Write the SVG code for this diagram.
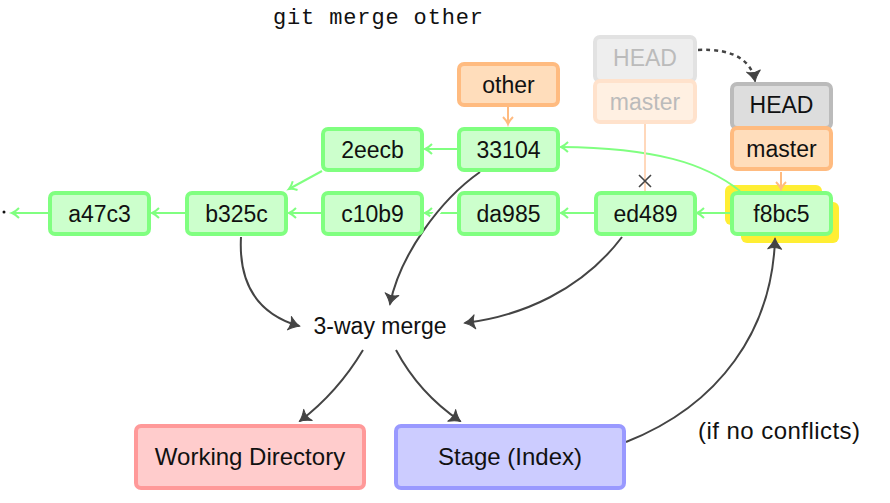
<svg xmlns="http://www.w3.org/2000/svg" width="890" height="503" viewBox="0 0 890 503">
<defs>
<style>
text{font-family:"Liberation Sans","DejaVu Sans",sans-serif;fill:#111;text-anchor:middle}
.lbl{font-size:23px}
.big{font-size:24px}
.commit rect.b{fill:#ccffcc;stroke:#80ff80;stroke-width:4}
.ref rect.b{fill:#ffddbb;stroke:#ffbb80;stroke-width:4}
.head rect.b{fill:#dddddd;stroke:#bbbbbb;stroke-width:4}
.fhead rect.b{fill:#eeeeee;stroke:#e2e2e2;stroke-width:4}
.fref rect.b{fill:#fff0e2;stroke:#ffe2cc;stroke-width:4}
.faded text{fill:#bbbbbb}
.g{fill:none;stroke:#80ff80;stroke-width:2}
.o{fill:none;stroke:#ffbb80;stroke-width:2}
.fo{fill:none;stroke:#ffd8bb;stroke-width:2}
.k{fill:none;stroke:#444;stroke-width:2}
</style>
<marker id="ag" markerUnits="userSpaceOnUse" markerWidth="14" markerHeight="14" refX="0" refY="0" viewBox="-10 -7 12 14" orient="auto" overflow="visible">
<path d="M-7,-5 Q-3,-1 0,0 Q-3,1 -7,5" fill="none" stroke="#80ff80" stroke-width="2"/>
</marker>
<marker id="ao" markerUnits="userSpaceOnUse" markerWidth="14" markerHeight="14" refX="0" refY="0" viewBox="-10 -7 12 14" orient="auto" overflow="visible">
<path d="M-7,-5 Q-3,-1 0,0 Q-3,1 -7,5" fill="none" stroke="#ffbb80" stroke-width="2"/>
</marker>
<marker id="ak" markerUnits="userSpaceOnUse" markerWidth="16" markerHeight="16" refX="0" refY="0" viewBox="-12 -8 14 16" orient="auto" overflow="visible">
<path d="M-10,-7 Q-4,-1.5 1,0 Q-4,1.5 -10,7 Q-7,0 -10,-7Z" fill="#444" stroke="#444" stroke-width="1" stroke-linejoin="round"/>
</marker>
</defs>

<text x="378" y="24" style="font-family:'Liberation Mono','DejaVu Sans Mono',monospace;font-size:22px" textLength="210">git merge other</text>

<!-- highlight behind f8bc5 -->
<g id="highlight">
<rect x="725" y="185" width="97" height="40" rx="6" fill="#ffee33"/>
<rect x="741" y="202" width="98" height="41" rx="6" fill="#ffee33"/>
</g>

<g id="connectors">
<circle cx="4" cy="212" r="1.5" fill="#111"/>
<line class="g" x1="48" y1="213" x2="12" y2="213" marker-end="url(#ag)"/>
<line class="g" x1="185" y1="213" x2="152" y2="213" marker-end="url(#ag)"/>
<line class="g" x1="321" y1="213" x2="289" y2="213" marker-end="url(#ag)"/>
<line class="g" x1="457" y1="213" x2="425" y2="213" marker-end="url(#ag)"/>
<line class="g" x1="594" y1="213" x2="561" y2="213" marker-end="url(#ag)"/>
<line class="g" x1="730" y1="213" x2="697" y2="213" marker-end="url(#ag)"/>
<line class="g" x1="457" y1="149" x2="425" y2="149" marker-end="url(#ag)"/>
<line class="g" x1="322" y1="171" x2="289" y2="189" marker-end="url(#ag)"/>
<path class="g" d="M740,191 C705,163 655,148 561,147" marker-end="url(#ag)"/>
<line class="o" x1="508" y1="106" x2="508" y2="124" marker-end="url(#ao)"/>
<line class="o" x1="781" y1="172" x2="781" y2="189" marker-end="url(#ao)"/>
<line class="fo" x1="645" y1="124" x2="645" y2="191"/>
<path d="M639,175 L651,187 M651,175 L639,187" stroke="#444" stroke-width="1.6" fill="none"/>
<path d="M698,50 C735,48 752,62 755,81" fill="none" stroke="#444" stroke-width="2.5" stroke-dasharray="4,4" marker-end="url(#ak)"/>

<path class="k" d="M241,237 C238,292 265,316 299,326" marker-end="url(#ak)"/>
<path d="M480,172 C440,200 400,255 390,304" fill="none" stroke="#fff" stroke-width="6"/>
<path class="k" d="M480,172 C440,200 400,255 390,304" marker-end="url(#ak)"/>
<path class="k" d="M622,237 C582,290 522,316 465,323" marker-end="url(#ak)"/>
<path class="k" d="M363,350 C345,380 325,402 300,421" marker-end="url(#ak)"/>
<path class="k" d="M396,350 C412,380 432,402 460,421" marker-end="url(#ak)"/>
<path class="k" d="M626,442 C720,405 772,330 775,239" marker-end="url(#ak)"/>
</g>

<g id="a47c3" class="commit"><rect class="b" x="50" y="193" width="99" height="41" rx="5"/><text class="lbl" x="99.5" y="213.5" dy="0.35em">a47c3</text></g>
<g id="b325c" class="commit"><rect class="b" x="187" y="193" width="99" height="41" rx="5"/><text class="lbl" x="236.5" y="213.5" dy="0.35em">b325c</text></g>
<g id="c10b9" class="commit"><rect class="b" x="323" y="193" width="99" height="41" rx="5"/><text class="lbl" x="372.5" y="213.5" dy="0.35em">c10b9</text></g>
<g id="da985" class="commit"><rect class="b" x="459" y="193" width="99" height="41" rx="5"/><text class="lbl" x="508.5" y="213.5" dy="0.35em">da985</text></g>
<g id="ed489" class="commit"><rect class="b" x="596" y="193" width="99" height="41" rx="5"/><text class="lbl" x="645.5" y="213.5" dy="0.35em">ed489</text></g>
<g id="f8bc5" class="commit"><rect class="b" x="732" y="193" width="99" height="41" rx="5"/><text class="lbl" x="781.5" y="213.5" dy="0.35em">f8bc5</text></g>
<g id="2eecb" class="commit"><rect class="b" x="323" y="129" width="99" height="41" rx="5"/><text class="lbl" x="372.5" y="149.5" dy="0.35em">2eecb</text></g>
<g id="33104" class="commit"><rect class="b" x="459" y="129" width="99" height="41" rx="5"/><text class="lbl" x="508.5" y="149.5" dy="0.35em">33104</text></g>

<g id="other" class="ref"><rect class="b" x="459" y="64" width="99" height="41" rx="5"/><text class="lbl" x="508.5" y="84.5" dy="0.35em">other</text></g>

<g id="oldHEAD" class="fhead faded"><rect class="b" x="595" y="37" width="100" height="44" rx="5"/><text class="lbl" x="645" y="58" dy="0.35em">HEAD</text></g>
<g id="oldmaster" class="fref faded"><rect class="b" x="595" y="81" width="100" height="41" rx="5"/><text class="lbl" x="645" y="101.5" dy="0.35em">master</text></g>

<g id="HEAD" class="head"><rect class="b" x="732" y="84" width="99" height="44" rx="5"/><text class="lbl" x="781.5" y="105" dy="0.35em">HEAD</text></g>
<g id="master" class="ref"><rect class="b" x="732" y="128" width="99" height="41" rx="5"/><text class="lbl" x="781.5" y="148.5" dy="0.35em">master</text></g>

<g id="merge"><text class="lbl" x="380" y="326" dy="0.35em">3-way merge</text></g>

<g id="workdir"><rect x="136" y="426" width="228" height="62" rx="5" fill="#ffcccc" stroke="#ff9999" stroke-width="4"/><text class="big" x="250" y="457" dy="0.35em">Working Directory</text></g>
<g id="stage"><rect x="396" y="426" width="228" height="62" rx="5" fill="#ccccff" stroke="#9999ff" stroke-width="4"/><text class="big" x="510" y="457" dy="0.35em">Stage (Index)</text></g>
<g id="cond"><text class="big" x="779" y="431" dy="0.35em" textLength="162">(if no conflicts)</text></g>
</svg>
